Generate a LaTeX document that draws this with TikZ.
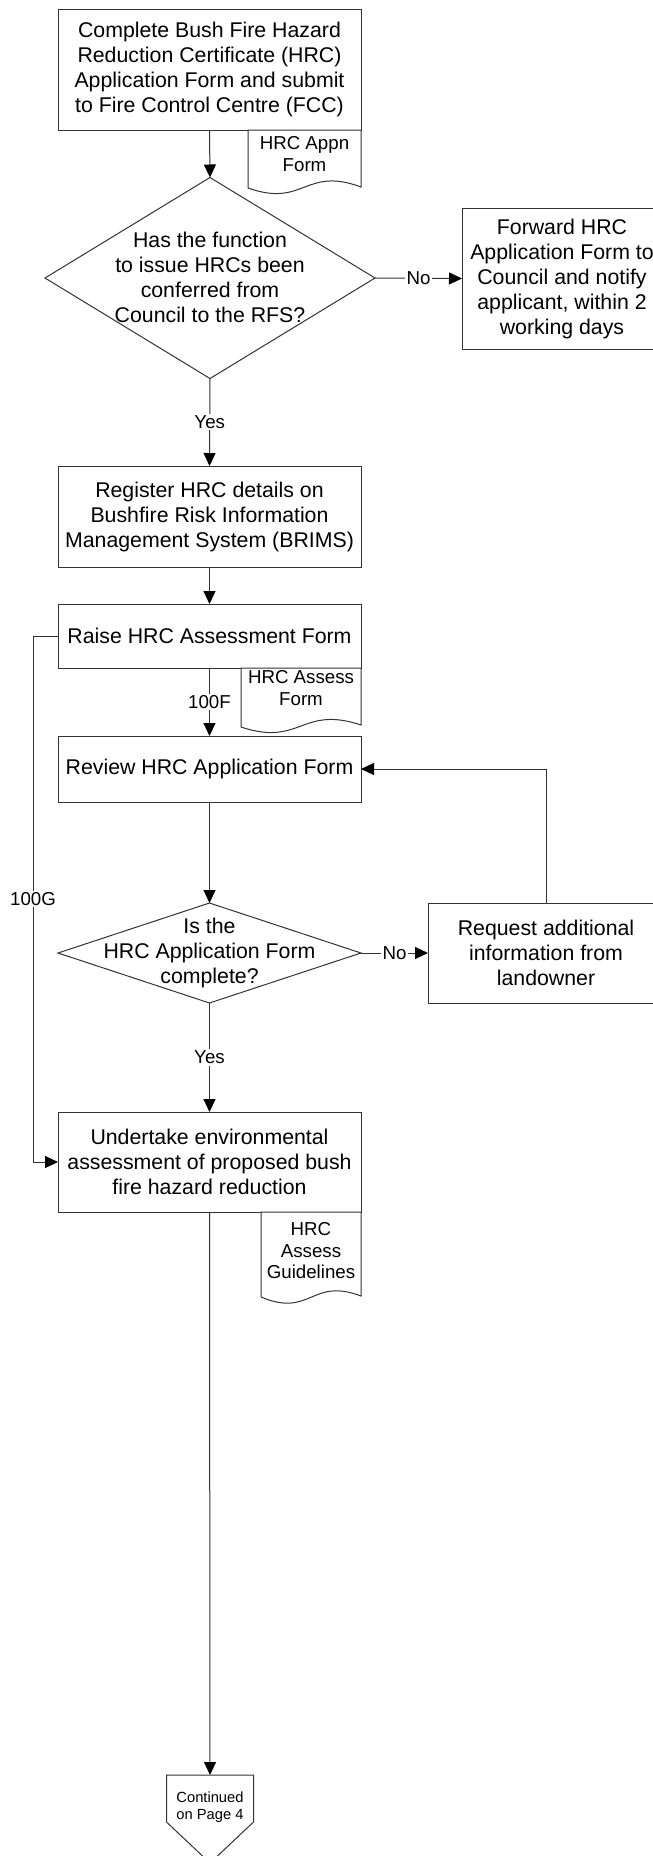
\documentclass[tikz,border=0pt]{standalone}
\usepackage{fontspec}
\setmainfont{Liberation Sans}
\usetikzlibrary{shapes.geometric,arrows.meta}
\definecolor{lc}{gray}{0.2}
\begin{document}
\begin{tikzpicture}[x=1pt,y=-1pt,
  box/.style={draw=lc, line width=1pt, fill=white, inner sep=0pt, outer sep=0pt,
    align=center, font=\fontsize{21.3}{25}\selectfont},
  maintext/.style={align=center, inner sep=0pt, font=\fontsize{21.3}{25}\selectfont},
  doctext/.style={align=center, inner sep=0pt, font=\fontsize{18.7}{21.5}\selectfont},
  lbl/.style={fill=white, inner sep=1.5pt, font=\fontsize{18.7}{21}\selectfont},
  dshape/.style={draw=lc, line width=1pt, fill=white},
  dia/.style={shape=diamond, draw=lc, line width=1pt, fill=white, inner sep=0pt, outer sep=0pt},
  arr/.style={draw=lc, line width=1pt, -{Triangle[length=13pt,width=12pt,color=black]}}]
\useasboundingbox (0,0) rectangle (653,1856);
\clip (0,0) rectangle (653,1856);
\fill[white] (0,0) rectangle (653,1856);

% boxes
\node[box, minimum width=303pt, minimum height=121pt] (b1) at (209.5,69.5)
  {Complete Bush Fire Hazard\\Reduction Certificate (HRC)\\Application Form and submit\\to Fire Control Centre (FCC)};
\node[dia, minimum width=330pt, minimum height=201pt] (d1) at (210,278) {};
\node[maintext] (d1t) at (210,277) {Has the function\\to issue HRCs been\\conferred from\\Council to the RFS?};
\node[box, minimum width=200pt, minimum height=141pt] (fwd) at (562,278.5)
  {Forward HRC\\Application Form to\\Council and notify\\applicant, within 2\\working days};
\node[box, minimum width=303pt, minimum height=101pt] (b2) at (209.5,516.5)
  {Register HRC details on\\Bushfire Risk Information\\Management System (BRIMS)};
\node[box, minimum width=303pt, minimum height=64pt] (b3) at (209.5,636)
  {Raise HRC Assessment Form};
\node[box, minimum width=303pt, minimum height=66pt] (b4) at (209.5,769)
  {Review HRC Application Form};
\node[dia, minimum width=303pt, minimum height=100pt] (d2) at (209.5,953) {};
\node[maintext] (d2t) at (209.5,953) {Is the\\HRC Application Form\\complete?};
\node[box, minimum width=236pt, minimum height=100pt] (req) at (546,953)
  {Request additional\\information from\\landowner};
\node[box, minimum width=303pt, minimum height=100pt] (b5) at (209.5,1162)
  {Undertake environmental\\assessment of proposed bush\\fire hazard reduction};

% documents
\draw[dshape] (248,130) -- (248,188) .. controls (304.5,208) and (304.5,166) .. (361,187) -- (361,130) -- cycle;
\node[doctext] (doc1) at (304.5,154) {HRC Appn\\Form};
\draw[dshape] (241,668) -- (241,727) .. controls (301,747) and (301,705) .. (361,725) -- (361,668) -- cycle;
\node[doctext] (doc2) at (301,688) {HRC Assess\\Form};
\draw[dshape] (261,1212) -- (261,1297) .. controls (311,1318) and (311,1277) .. (361,1296) -- (361,1212) -- cycle;
\node[doctext] (doc3) at (311,1251) {HRC\\Assess\\Guidelines};

% off-page connector
\coordinate (offtop) at (210,1775);
\draw[dshape] (166.5,1775) -- (253.5,1775) -- (253.5,1822) -- (210,1863) -- (166.5,1822) -- cycle;
\node[align=center, inner sep=0pt, font=\fontsize{14.7}{17.5}\selectfont] (offt) at (210,1807) {Continued\\on Page 4};

% connectors
\draw[arr] (b1.south) -- (d1.north);
\draw[arr] (d1.east) -- node[lbl]{No} (fwd.west);
\draw[arr] (d1.south) -- node[lbl]{Yes} (b2.north);
\draw[arr] (b2.south) -- (b3.north);
\draw[arr] (b3.south) -- node[lbl]{100F} (b4.north);
\draw[arr] (b4.south) -- (d2.north);
\draw[arr] (d2.east) -- node[lbl]{No} (req.west);
\draw[arr] (req.north) |- (b4.east);
\draw[arr] (d2.south) -- node[lbl]{Yes} (b5.north);
\coordinate (g) at (33,636);
\draw[arr] (b3.west) -- (g) |- node[lbl,pos=0.25]{100G} (b5.west);
\draw[arr] (b5.south) -- (offtop);
\end{tikzpicture}
\end{document}
